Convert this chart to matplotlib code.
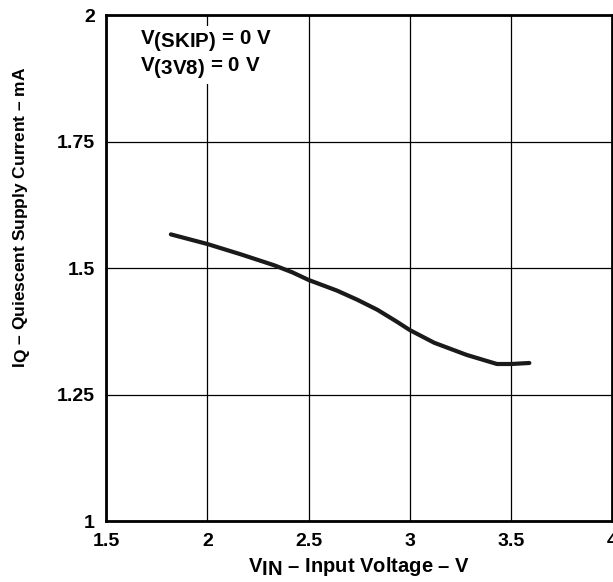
import matplotlib
matplotlib.use("Agg")
import matplotlib.pyplot as plt
import matplotlib._mathtext as mathtext_internal
import numpy as np

plt.rcParams['font.family'] = ['Liberation Sans', 'DejaVu Sans']
plt.rcParams['font.weight'] = 'bold'
plt.rcParams['mathtext.fontset'] = 'custom'
plt.rcParams['mathtext.rm'] = 'Liberation Sans:bold'
plt.rcParams['mathtext.bf'] = 'Liberation Sans:bold'
plt.rcParams['mathtext.it'] = 'Liberation Sans:bold'
# subscripts in the original are full size
mathtext_internal.SHRINK_FACTOR = 1.0

# input voltage (V) and quiescent current (mA)
v_in = [1.82, 2.0, 2.17, 2.33, 2.42, 2.5, 2.64, 2.74, 2.84, 2.93, 3.0, 3.12, 3.28, 3.43, 3.5, 3.59]
i_q = [1.567, 1.548, 1.527, 1.506, 1.492, 1.477, 1.456, 1.438, 1.418, 1.396, 1.378, 1.353, 1.329, 1.311, 1.311, 1.313]

x_ticks = [1.5, 2, 2.5, 3, 3.5, 4]
x_labels = ['1.5', '2', '2.5', '3', '3.5', '4']
y_ticks = [1, 1.25, 1.5, 1.75, 2]
y_labels = ['1', '1.25', '1.5', '1.75', '2']

fig = plt.figure(figsize=(6.13, 5.82), dpi=100)
ax = fig.add_axes([0.173, 0.104, 0.826, 0.870])

ax.plot(v_in, i_q, color='#1a1a1a', lw=3.0, solid_capstyle='round',
        solid_joinstyle='round', zorder=3)

ax.set_xlim(1.5, 4)
ax.set_ylim(1, 2)
ax.set_xticks(x_ticks)
ax.set_xticklabels(x_labels, fontweight='bold')
ax.set_yticks(y_ticks)
ax.set_yticklabels(y_labels, fontweight='bold')
ax.tick_params(length=0, labelsize=14)
ax.tick_params(axis='x', pad=8)
ax.tick_params(axis='y', pad=8)
ax.grid(True, color='black', lw=0.9)

for s in ax.spines.values():
    s.set_linewidth(2)

ax.set_xlabel(r'V$_{\mathbf{IN}}$ – Input Voltage – V', fontsize=14.5, fontweight='bold')
ax.set_ylabel(r'I$_{\mathbf{Q}}$ – Quiescent Supply Current – mA', fontsize=12.5, fontweight='bold')
ax.xaxis.set_label_coords(0.5, -0.066)
ax.yaxis.set_label_coords(-0.144, 0.601)

box = dict(facecolor='white', edgecolor='none', pad=2)
ax.text(0.067, 0.941, r'V$_{\mathbf{(SKIP)}}$ = 0 V', transform=ax.transAxes,
        fontsize=14.8, va='baseline', ha='left', bbox=box, zorder=4)
ax.text(0.067, 0.888, r'V$_{\mathbf{(3V8)}}$ = 0 V', transform=ax.transAxes,
        fontsize=14.8, va='baseline', ha='left', bbox=box, zorder=4)

fig.savefig('out.png', dpi=100)
